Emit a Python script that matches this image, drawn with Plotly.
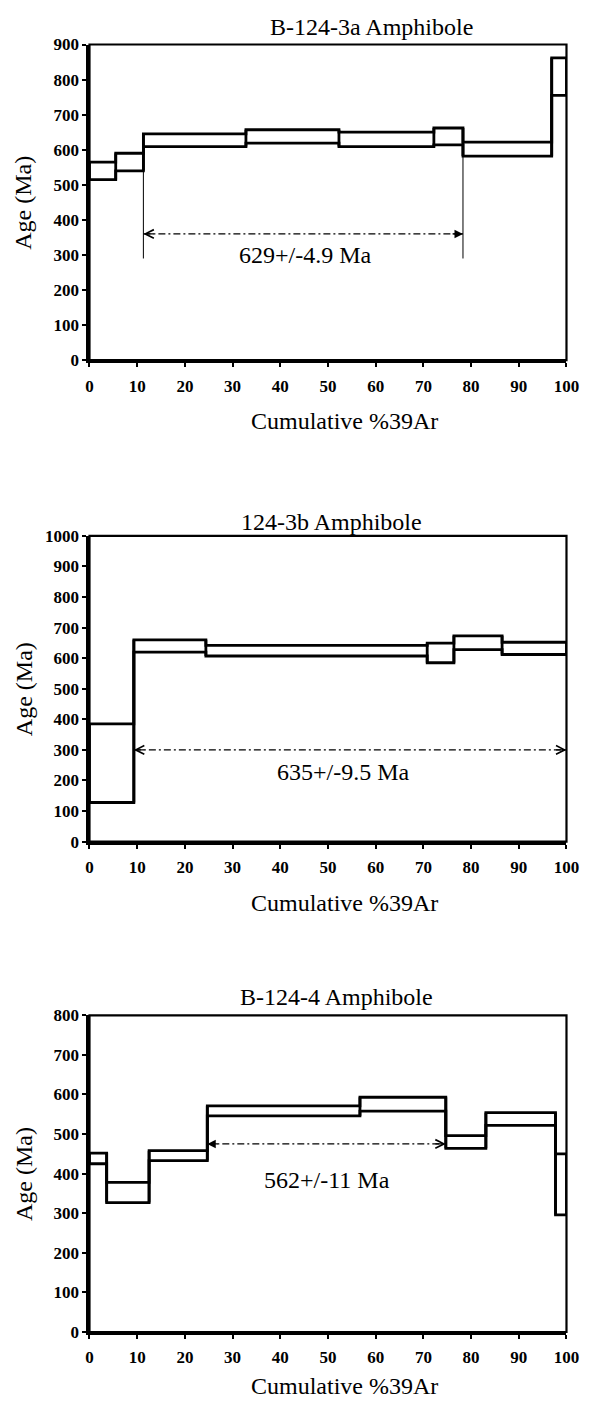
import plotly.graph_objects as go

# ---------------- data ----------------
titles = ["B-124-3a Amphibole", "124-3b Amphibole", "B-124-4 Amphibole"]
y_max = [900, 1000, 800]

p1_edges = [0, 5.5, 11.3, 32.8, 52.3, 72.2, 78.3, 96.9, 100]
p1_low = [515, 540, 609, 619, 609, 614, 582, 755]
p1_high = [565, 590, 645, 657, 650, 662, 622, 862]

p2_edges = [0, 9.3, 24.4, 70.8, 76.4, 86.5, 100]
p2_low = [128, 620, 607, 585, 628, 612]
p2_high = [385, 660, 642, 649, 673, 652]

p3_edges = [0, 3.6, 12.5, 24.7, 56.7, 74.7, 83.1, 97.7, 100]
p3_low = [425, 327, 433, 546, 558, 464, 522, 296]
p3_high = [452, 378, 458, 571, 593, 496, 554, 450]

plateau_x0 = [11.3, 9.3, 24.7]
plateau_x1 = [78.3, 100, 74.7]
plateau_y = [360, 300, 475]
plateau_label = ["629+/-4.9 Ma", "635+/-9.5 Ma", "562+/-11 Ma"]
label_x = [45.2, 53.3, 49.7]
label_y = [299, 229, 383]
p1_drop_bottom = 290
p1_drop_tops = [540, 582]

panels = [(p1_edges, p1_low, p1_high), (p2_edges, p2_low, p2_high), (p3_edges, p3_low, p3_high)]

# ---------------- layout geometry (pixels) ----------------
W, H = 596, 1414
x_left, x_right = 88, 579
frames = [(36, 356), (534, 844), (1020, 1341)]
title_pos = [(378, 18), (337, 520), (342, 1001)]
xtitle_offsets = [62, 62, 55]

FONT = "Liberation Serif"
TXT = 24
fig = go.Figure()
axis_suffix = ["", "2", "3"]

def px_y(py):
    return 1 - py / H

def paper_text(x, y, text, angle=0):
    fig.add_annotation(x=x / W, y=px_y(y), xref="paper", yref="paper", text=text,
                       xanchor="center", yanchor="middle", textangle=angle, showarrow=False,
                       font=dict(family=FONT, size=TXT, color="black"))

for i, (edges, low, high) in enumerate(panels):
    xs = "x" + axis_suffix[i]
    ys = "y" + axis_suffix[i]
    line = dict(color="black", width=2.8)
    # top and bottom step lines
    fig.add_trace(go.Scatter(x=edges, y=high + [high[-1]], mode="lines", line_shape="hv",
                             line=line, xaxis=xs, yaxis=ys, showlegend=False, hoverinfo="skip"))
    fig.add_trace(go.Scatter(x=edges, y=low + [low[-1]], mode="lines", line_shape="hv",
                             line=line, xaxis=xs, yaxis=ys, showlegend=False, hoverinfo="skip"))
    # vertical connectors at every boundary
    vx, vy = [], []
    n = len(low)
    for k in range(n + 1):
        if k == 0:
            lo, hi = low[0], high[0]
        elif k == n:
            lo, hi = low[-1], high[-1]
        else:
            lo = min(low[k - 1], low[k]); hi = max(high[k - 1], high[k])
        vx += [edges[k], edges[k], None]
        vy += [lo, hi, None]
    fig.add_trace(go.Scatter(x=vx, y=vy, mode="lines", line=line, xaxis=xs, yaxis=ys,
                             showlegend=False, hoverinfo="skip"))
    # plateau line
    fig.add_trace(go.Scatter(x=[plateau_x0[i], plateau_x1[i]], y=[plateau_y[i]] * 2, mode="lines",
                             line=dict(color="black", width=1.2, dash="7px,3px,2px,3px"),
                             xaxis=xs, yaxis=ys, showlegend=False, hoverinfo="skip"))
    if i == 0:
        dx, dy = [], []
        for xx, tp in zip([plateau_x0[0], plateau_x1[0]], p1_drop_tops):
            dx += [xx, xx, None]
            dy += [p1_drop_bottom, tp, None]
        fig.add_trace(go.Scatter(x=dx, y=dy, mode="lines", line=dict(color="black", width=1),
                                 xaxis=xs, yaxis=ys, showlegend=False, hoverinfo="skip"))
    # arrowheads
    heads = [(plateau_x0[i], plateau_x0[i] + 2.5, 2 if i == 2 else 5),
             (plateau_x1[i], plateau_x1[i] - 2.5, 2 if i == 0 else 5)]
    for hx, tx, style in heads:
        fig.add_annotation(x=hx, y=plateau_y[i], ax=tx, ay=plateau_y[i], xref=xs, yref=ys,
                           axref=xs, ayref=ys, text="", showarrow=True, arrowhead=style,
                           arrowsize=1.3, arrowwidth=1.3, arrowcolor="black", standoff=0)
    fig.add_annotation(x=label_x[i], y=label_y[i], xref=xs, yref=ys, text=plateau_label[i],
                       xanchor="center", yanchor="middle", showarrow=False,
                       font=dict(family=FONT, size=TXT, color="black"))

    top, bot = frames[i]
    dom_y = [px_y(bot), px_y(top)]
    ax_common = dict(showgrid=False, zeroline=False, showline=True, linecolor="black",
                     linewidth=3, ticks="outside", ticklen=4, tickwidth=2, tickcolor="black",
                     tickfont=dict(family=FONT, size=17, color="black", weight="bold"))
    fig.layout["xaxis" + axis_suffix[i]] = dict(domain=[x_left / W, x_right / W], range=[0, 100],
                                                 dtick=10, tick0=0, anchor=ys,
                                                 ticklabelstandoff=4, **ax_common)
    fig.layout["yaxis" + axis_suffix[i]] = dict(domain=dom_y, range=[0, y_max[i]], dtick=100,
                                                 tick0=0, anchor=xs, **ax_common)
    # outer frame (top/right)
    fig.add_shape(type="rect", xref=xs + " domain", yref=ys + " domain", x0=0, x1=1, y0=0, y1=1,
                  line=dict(color="black", width=2.2))
    # titles
    tx, ty = title_pos[i]
    paper_text(tx, ty, titles[i])
    paper_text(350, bot + xtitle_offsets[i], "Cumulative %39Ar")
    paper_text(20, (top + bot) / 2, "Age (Ma)", angle=-90)

fig.update_layout(width=W, height=H, margin=dict(l=0, r=0, t=0, b=0),
                  plot_bgcolor="white", paper_bgcolor="white", showlegend=False)
fig.write_html("out.html")
